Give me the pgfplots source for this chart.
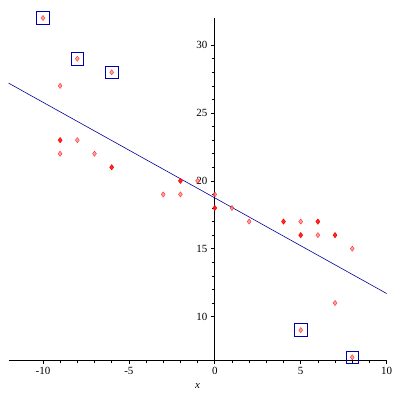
\documentclass[border=0pt]{standalone}
\usepackage{pgfplots}
\pgfplotsset{compat=1.18}
\usepackage{fontspec}
\setmainfont{Liberation Serif}
\begin{document}
\begin{tikzpicture}
\begin{axis}[
  at={(0,0)}, anchor=south west,
  scale only axis, width=378bp, height=342bp,
  xmin=-12, xmax=10, ymin=6.8, ymax=32,
  axis x line*=bottom, axis y line*=middle,
  xtick={-10,-5,0,5,10}, ytick={10,15,20,25,30},
  minor x tick num=4, minor y tick num=4,
  tick align=outside,
  major tick length=4bp, minor tick length=2.5bp,
  tick style={black, line width=0.6pt},
  axis line style={black, line width=0.6pt},
  /pgf/number format/assume math mode=true,
  ticklabel style={font=\fontsize{11}{13}\selectfont},
  xticklabels={-10,-5,0,5,10},
  yticklabels={10,15,20,25,30},
  xlabel={\textit{x}},
  xlabel style={at={(axis description cs:0.5,0)}, anchor=north, yshift=-20bp, font=\fontsize{11}{13}\selectfont},
  clip=false,
]
% regression line
\addplot[blue!60!black, line width=0.6pt] coordinates {(-12,27.2) (10,11.7)};
% single points
\addplot[only marks, mark=diamond*, mark size=2.6bp, draw=red, fill=red!50!white, opacity=0.75] coordinates {
(-10,32) (-8,29) (-6,28) (5,9) (8,7)
(-9,27) (-8,23) (-9,22) (-7,22) (-3,19) (-2,19) (-1,20) (0,19) (1,18) (2,17)
(5,17) (6,16) (8,15) (7,11)
(-9,23) (-6,21) (-2,20) (0,18) (4,17) (6,17) (5,16) (7,16)
};
% duplicated points (darker)
\addplot[only marks, mark=diamond*, mark size=2.6bp, draw=red, fill=red, opacity=0.75] coordinates {
(-9,23) (-6,21) (-2,20) (0,18) (4,17) (6,17) (5,16) (7,16)
};
% boxed outliers
\addplot[only marks, mark=square, mark size=6.3bp, draw=blue!70!black, line width=0.8pt] coordinates {
(-10,32) (-8,29) (-6,28) (5,9) (8,7)
};
\end{axis}
\path[use as bounding box] (-8.6bp,-40bp) rectangle (391.4bp,360bp);
\end{tikzpicture}
\end{document}
